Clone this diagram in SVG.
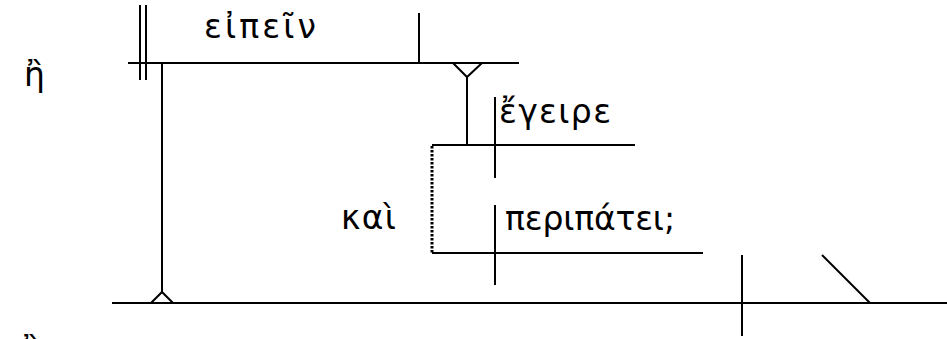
<svg xmlns="http://www.w3.org/2000/svg" width="947" height="339" viewBox="0 0 947 339">
<style>
.l{stroke:#000;stroke-width:2;fill:none}
.d{stroke:#000;stroke-width:3;fill:none;stroke-dasharray:2.5 1.5}
.t{font-family:"DejaVu Sans","Noto Sans",sans-serif;font-size:33px;fill:#000}
</style>
<rect width="947" height="339" fill="#fff"/>
<g id="connectors">
<line class="l" x1="128" y1="63" x2="519" y2="63"/>
<line class="l" x1="140" y1="5" x2="140" y2="80"/>
<line class="l" x1="146" y1="5" x2="146" y2="80"/>
<line class="l" x1="162" y1="63" x2="162" y2="292"/>
<polyline class="l" points="151,303 162,292 173,303"/>
<line class="l" x1="419" y1="13" x2="419" y2="63"/>
<polyline class="l" points="453,63 467,77 482,63"/>
<line class="l" x1="467" y1="77" x2="467" y2="145"/>
<line class="l" x1="432" y1="145" x2="635" y2="145"/>
<line class="l" x1="495" y1="97" x2="495" y2="178"/>
<line class="d" x1="432" y1="146" x2="432" y2="253"/>
<line class="l" x1="432" y1="253" x2="703" y2="253"/>
<line class="l" x1="495" y1="205" x2="495" y2="285"/>
<line class="l" x1="112" y1="303" x2="947" y2="303"/>
<line class="l" x1="742" y1="255" x2="742" y2="336"/>
<line class="l" x1="822" y1="255" x2="870" y2="303"/>
</g>
<g id="n1"><text class="t" x="24" y="86">ἢ</text></g>
<g id="n2"><text class="t" x="204" y="38" textLength="112" lengthAdjust="spacing">εἰπεῖν</text></g>
<g id="n3"><text class="t" x="499" y="123" textLength="112" lengthAdjust="spacing">ἔγειρε</text></g>
<g id="n4"><text class="t" x="341" y="229" textLength="55" lengthAdjust="spacing">καὶ</text></g>
<g id="n5"><text class="t" x="505" y="230" textLength="170" lengthAdjust="spacing">περιπάτει;</text></g>
<g id="n6"><text class="t" x="20" y="361">ἢ</text></g>
</svg>
